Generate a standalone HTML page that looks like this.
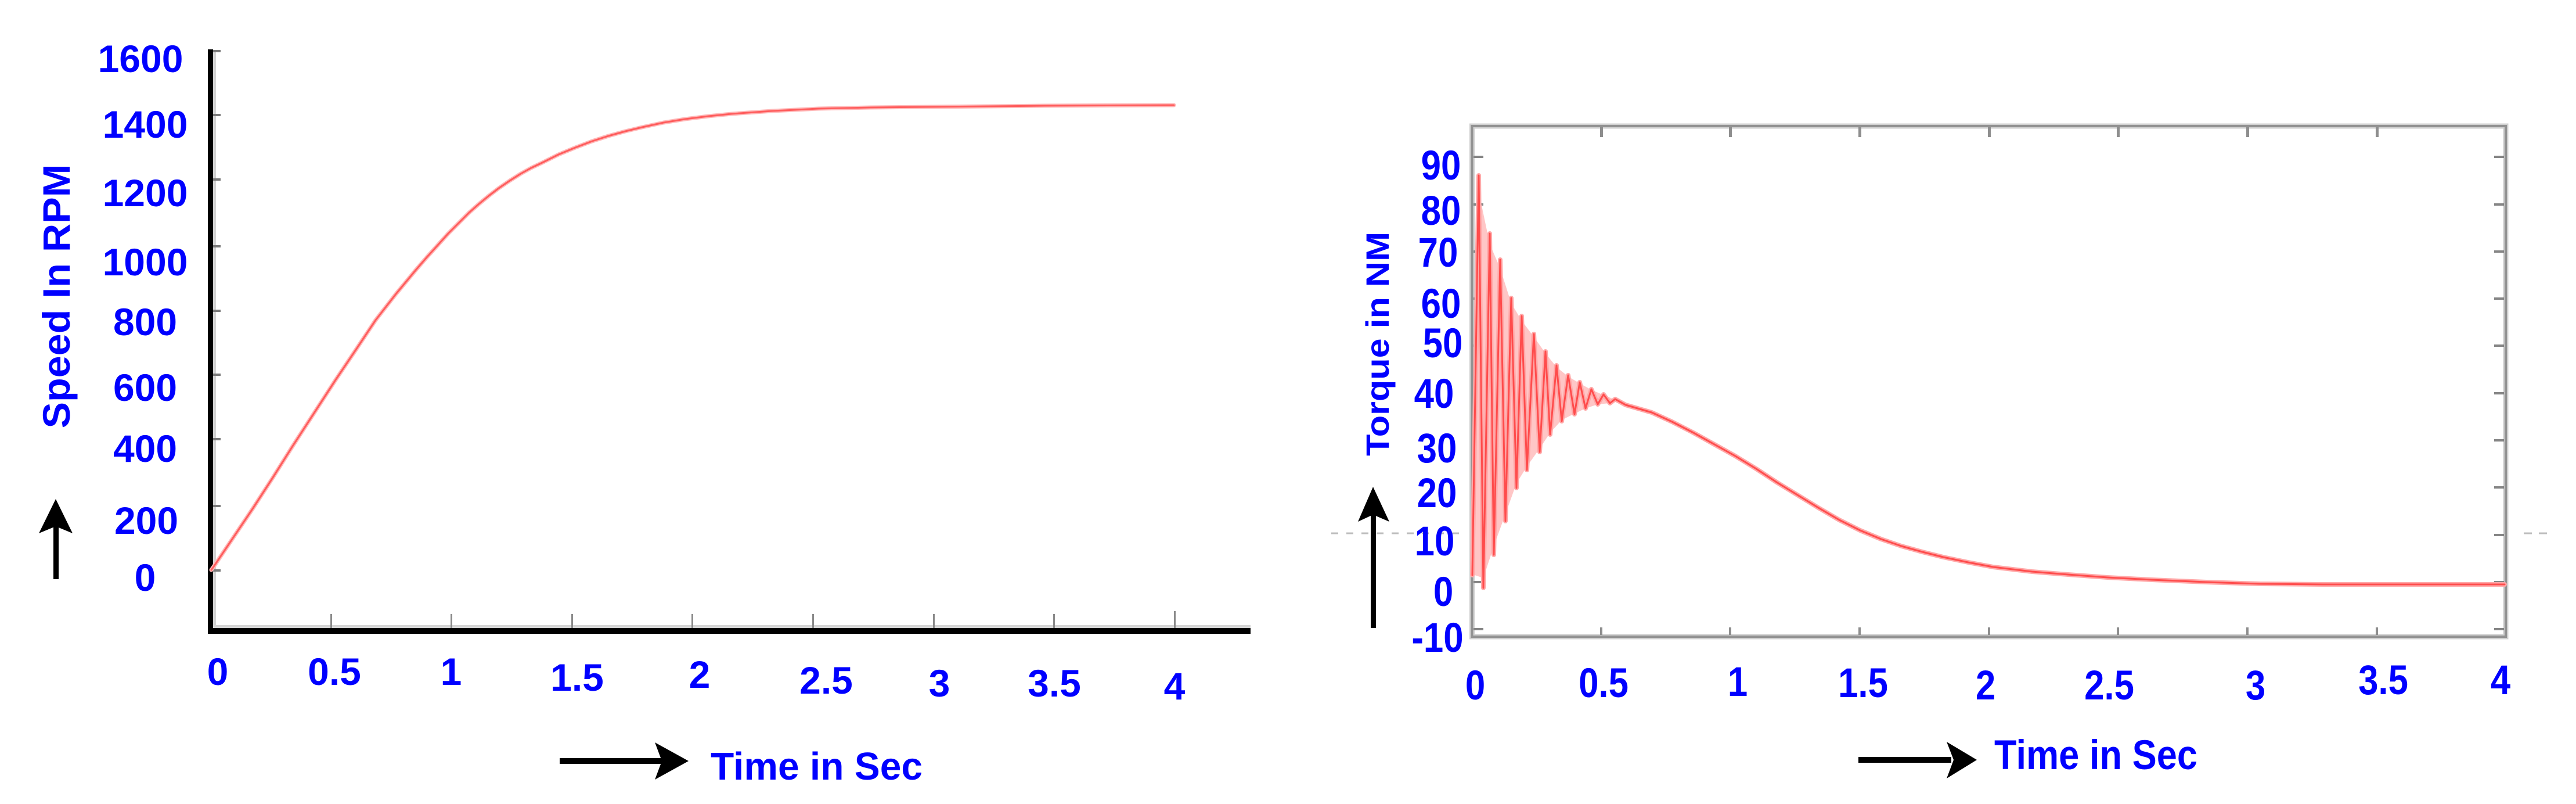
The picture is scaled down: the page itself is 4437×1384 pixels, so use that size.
<!DOCTYPE html>
<html>
<head>
<meta charset="utf-8">
<style>
html,body{margin:0;padding:0;background:#fff;}
svg{display:block;}
text{font-family:"Liberation Sans",Arial,sans-serif;font-weight:bold;fill:#0000ff;}
</style>
</head>
<body>
<svg width="4437" height="1384" viewBox="0 0 4437 1384" xmlns="http://www.w3.org/2000/svg">
<rect x="0" y="0" width="4437" height="1384" fill="#fff"/>

<!-- ================= LEFT CHART ================= -->
<rect x="367" y="86" width="5" height="995" fill="#d2d2d2"/>
<rect x="367" y="1076" width="1787" height="5" fill="#d5d5d5"/>
<g fill="#7a7a7a">
<rect x="367" y="86" width="13" height="4"/>
<rect x="367" y="196" width="13" height="4"/>
<rect x="367" y="307" width="13" height="4"/>
<rect x="367" y="422" width="13" height="4"/>
<rect x="367" y="533" width="13" height="4"/>
<rect x="367" y="643" width="13" height="4"/>
<rect x="367" y="754" width="13" height="4"/>
<rect x="367" y="869" width="13" height="4"/>
<rect x="367" y="980" width="13" height="4"/>
</g>
<g fill="#8a8a8a">
<rect x="569" y="1057" width="3" height="24"/>
<rect x="776" y="1057" width="3" height="24"/>
<rect x="984" y="1057" width="3" height="24"/>
<rect x="1191" y="1057" width="3" height="24"/>
<rect x="1399" y="1057" width="3" height="24"/>
<rect x="1607" y="1057" width="3" height="24"/>
<rect x="1814" y="1057" width="3" height="24"/>
<rect x="2022" y="1052" width="3" height="29"/>
</g>
<rect x="358" y="85" width="9" height="1006" fill="#000"/>
<rect x="358" y="1081" width="1796" height="10" fill="#000"/>

<!-- speed curve -->
<g fill="none" stroke-linejoin="round" stroke-linecap="round">
<polyline stroke="#ffb8b8" stroke-width="7"
points="364,981 369,974 402,925 435,876 470,822 504,768 541,711 578,654 613,602 647,551 682,506 716,465 735,443 754,422 772,402 791,383 808,366 825,351 842,337 859,324 878,311 897,299 915,289 934,280 962,266 991,254 1020,243 1048,234 1077,226 1106,219 1143,211 1180,205 1220,200 1260,196 1330,191 1410,187 1500,185 1600,184 1800,182 2022,181"/>
<polyline stroke="#ff5c5c" stroke-width="3"
points="364,981 369,974 402,925 435,876 470,822 504,768 541,711 578,654 613,602 647,551 682,506 716,465 735,443 754,422 772,402 791,383 808,366 825,351 842,337 859,324 878,311 897,299 915,289 934,280 962,266 991,254 1020,243 1048,234 1077,226 1106,219 1143,211 1180,205 1220,200 1260,196 1330,191 1410,187 1500,185 1600,184 1800,182 2022,181"/>
</g>

<g font-size="66" text-anchor="middle">
<text x="242" y="124">1600</text>
<text x="250" y="237">1400</text>
<text x="250" y="355">1200</text>
<text x="250" y="474">1000</text>
<text x="250" y="577">800</text>
<text x="250" y="690">600</text>
<text x="250" y="795">400</text>
<text x="252" y="919">200</text>
<text x="250" y="1017">0</text>
</g>
<g font-size="66" text-anchor="middle">
<text x="375" y="1179">0</text>
<text x="576" y="1179">0.5</text>
<text x="777" y="1179">1</text>
<text x="994" y="1189">1.5</text>
<text x="1205" y="1184">2</text>
<text x="1423" y="1194">2.5</text>
<text x="1618" y="1199">3</text>
<text x="1816" y="1199">3.5</text>
<text x="2023" y="1204">4</text>
</g>
<text font-size="66" text-anchor="middle" transform="translate(120,510) rotate(-90)" textLength="455" lengthAdjust="spacingAndGlyphs">Speed In RPM</text>
<rect x="92" y="900" width="9" height="97" fill="#000"/>
<polygon points="96,859 125,918 96,906 67,918" fill="#000"/>
<rect x="964" y="1305" width="180" height="10" fill="#000"/>
<polygon points="1128,1278 1186,1310 1128,1342 1140,1310" fill="#000"/>
<text x="1224" y="1342" font-size="67" textLength="365" lengthAdjust="spacingAndGlyphs">Time in Sec</text>

<!-- ================= RIGHT CHART ================= -->
<line x1="2293" y1="918" x2="2515" y2="918" stroke="#bdbdbd" stroke-width="3" stroke-dasharray="12,14"/>
<line x1="4347" y1="918" x2="4395" y2="918" stroke="#bdbdbd" stroke-width="3" stroke-dasharray="14,12"/>

<rect x="2535.5" y="217" width="1780.5" height="879" fill="none" stroke="#d0d0d0" stroke-width="9"/>
<rect x="2535.5" y="217" width="1780.5" height="879" fill="none" stroke="#929292" stroke-width="4"/>

<g fill="#8e8e8e">
<rect x="2756" y="219" width="5" height="17"/>
<rect x="2978" y="219" width="5" height="17"/>
<rect x="3201" y="219" width="5" height="17"/>
<rect x="3424" y="219" width="5" height="17"/>
<rect x="3646" y="219" width="5" height="17"/>
<rect x="3869" y="219" width="5" height="17"/>
<rect x="4092" y="219" width="5" height="17"/>
<rect x="2756" y="1080" width="4" height="13"/>
<rect x="2978" y="1080" width="4" height="13"/>
<rect x="3201" y="1080" width="4" height="13"/>
<rect x="3424" y="1080" width="4" height="13"/>
<rect x="3646" y="1080" width="4" height="13"/>
<rect x="3869" y="1080" width="4" height="13"/>
<rect x="4092" y="1080" width="4" height="13"/>
</g>
<g fill="#858585">
<rect x="2538" y="268" width="17" height="4"/>
<rect x="2538" y="350" width="17" height="4"/>
<rect x="2538" y="431" width="17" height="4"/>
<rect x="2538" y="512" width="17" height="4"/>
<rect x="2538" y="593" width="17" height="4"/>
<rect x="2538" y="675" width="17" height="4"/>
<rect x="2538" y="756" width="17" height="4"/>
<rect x="2538" y="837" width="17" height="4"/>
<rect x="2538" y="919" width="17" height="4"/>
<rect x="2538" y="1000" width="17" height="4"/>
<rect x="2538" y="1081" width="17" height="4"/>
<rect x="4296" y="268" width="17" height="4"/>
<rect x="4296" y="350" width="17" height="4"/>
<rect x="4296" y="431" width="17" height="4"/>
<rect x="4296" y="512" width="17" height="4"/>
<rect x="4296" y="593" width="17" height="4"/>
<rect x="4296" y="675" width="17" height="4"/>
<rect x="4296" y="756" width="17" height="4"/>
<rect x="4296" y="837" width="17" height="4"/>
<rect x="4296" y="919" width="17" height="4"/>
<rect x="4296" y="1000" width="17" height="4"/>
<rect x="4296" y="1081" width="17" height="4"/>
</g>

<!-- torque oscillation envelope fill -->
<polygon fill="#ffc6c6" points="2538,900 2547,330 2566,420 2584,462 2603,522 2621,552 2642,580 2662,608 2681,632 2701,648 2721,660 2741,671 2762,680 2782,688 2773,694 2752,696 2731,703 2712,712 2690,723 2670,745 2652,772 2630,803 2612,832 2593,885 2573,940 2555,995 2540,990"/>

<g fill="none" stroke-linejoin="round" stroke-linecap="round">
<polyline stroke="#ffa8a8" stroke-width="8"
points="2536,990 2547,302 2555,1012 2566,402 2573,955 2584,447 2593,897 2603,513 2612,840 2621,544 2630,809 2642,575 2652,778 2662,605 2670,748 2681,629 2690,725 2701,646 2712,713 2721,658 2731,703 2741,670 2752,696 2762,679 2773,694 2782,687 2800,697 2845,710 2880,726 2917,745 2953,765 2989,785 3025,807 3060,830 3096,852 3132,874 3168,895 3204,913 3240,928 3275,940 3311,950 3347,959 3390,968 3433,976 3500,984 3562,989 3630,994 3706,998 3800,1002 3892,1005 4000,1006 4314,1006"/>
<polyline stroke="#ff4c4c" stroke-width="3"
points="2536,990 2547,302 2555,1012 2566,402 2573,955 2584,447 2593,897 2603,513 2612,840 2621,544 2630,809 2642,575 2652,778 2662,605 2670,748 2681,629 2690,725 2701,646 2712,713 2721,658 2731,703 2741,670 2752,696 2762,679 2773,694 2782,687 2800,697 2845,710 2880,726 2917,745 2953,765 2989,785 3025,807 3060,830 3096,852 3132,874 3168,895 3204,913 3240,928 3275,940 3311,950 3347,959 3390,968 3433,976 3500,984 3562,989 3630,994 3706,998 3800,1002 3892,1005 4000,1006 4314,1006"/>
</g>

<g font-size="71" text-anchor="middle">
<text transform="translate(2482,309) scale(0.87,1)">90</text>
<text transform="translate(2482,387) scale(0.87,1)">80</text>
<text transform="translate(2477,459) scale(0.87,1)">70</text>
<text transform="translate(2482,547) scale(0.87,1)">60</text>
<text transform="translate(2485,615) scale(0.87,1)">50</text>
<text transform="translate(2470,702) scale(0.87,1)">40</text>
<text transform="translate(2475,796) scale(0.87,1)">30</text>
<text transform="translate(2475,873) scale(0.87,1)">20</text>
<text transform="translate(2471,956) scale(0.87,1)">10</text>
<text transform="translate(2486,1043) scale(0.87,1)">0</text>
<text transform="translate(2476,1122) scale(0.87,1)">-10</text>
</g>
<g font-size="71" text-anchor="middle">
<text transform="translate(2541,1204) scale(0.87,1)">0</text>
<text transform="translate(2762,1200) scale(0.87,1)">0.5</text>
<text transform="translate(2993,1198) scale(0.87,1)">1</text>
<text transform="translate(3209,1200) scale(0.87,1)">1.5</text>
<text transform="translate(3420,1204) scale(0.87,1)">2</text>
<text transform="translate(3633,1204) scale(0.87,1)">2.5</text>
<text transform="translate(3885,1204) scale(0.87,1)">3</text>
<text transform="translate(4105,1195) scale(0.87,1)">3.5</text>
<text transform="translate(4307,1195) scale(0.87,1)">4</text>
</g>
<text font-size="56" text-anchor="middle" transform="translate(2392,592) rotate(-90)" textLength="386" lengthAdjust="spacingAndGlyphs">Torque in NM</text>
<rect x="2361" y="880" width="9" height="201" fill="#000"/>
<polygon points="2365,838 2393,898 2365,886 2339,898" fill="#000"/>
<rect x="3201" y="1303" width="160" height="10" fill="#000"/>
<polygon points="3353,1277 3405,1308 3353,1340 3365,1308" fill="#000"/>
<text x="3435" y="1324" font-size="71" textLength="350" lengthAdjust="spacingAndGlyphs">Time in Sec</text>
</svg>
</body>
</html>
